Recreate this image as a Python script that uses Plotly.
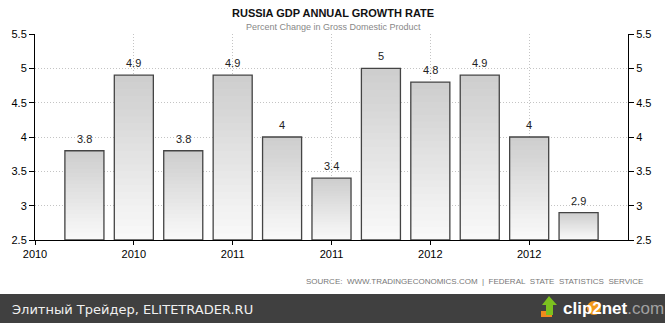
import plotly.graph_objects as go

# Russia GDP annual growth rate, quarterly readings
growth = [3.8, 4.9, 3.8, 4.9, 4.0, 3.4, 5.0, 4.8, 4.9, 4.0, 2.9]
positions = list(range(len(growth)))
tick_positions = [-1, 1, 3, 5, 7, 9]
tick_labels = ["2010", "2010", "2011", "2011", "2012", "2012"]
y_min, y_max = 2.5, 5.5

W, H = 665, 323
ML, MR, MT, MB = 35, 37, 34, 83
PW, PH = W - ML - MR, H - MT - MB


def px_x(px):
    return (px - ML) / PW


def px_y(py):
    return (H - MB - py) / PH


FONT = "Liberation Sans, Arial, sans-serif"
fig = go.Figure()

# vertical gradient inside each bar: nested overlaid bars, tallest (darkest) first
N = 24
top_rgb = (206, 206, 206)
bot_rgb = (249, 249, 249)
heights = [v - y_min for v in growth]
for k in range(N):
    t = k / (N - 1)
    c = tuple(round(top_rgb[i] + (bot_rgb[i] - top_rgb[i]) * t) for i in range(3))
    frac = (N - k) / N
    fig.add_trace(go.Bar(
        x=positions, y=[h * frac for h in heights], base=y_min,
        width=0.79, marker=dict(color="rgb(%d,%d,%d)" % c, line=dict(width=0)),
        hoverinfo="skip", showlegend=False,
    ))

# bar outlines
fig.add_trace(go.Bar(
    x=positions, y=heights, base=y_min, width=0.79,
    marker=dict(color="rgba(0,0,0,0)", line=dict(color="#444444", width=1.3)),
    showlegend=False, hovertemplate="%{x}: %{customdata}<extra></extra>",
    customdata=growth,
))

# right-hand axis companion trace
fig.add_trace(go.Scatter(
    x=positions, y=growth, yaxis="y2", mode="markers",
    marker=dict(opacity=0), hoverinfo="skip", showlegend=False,
))

# value labels
for xv, v in zip(positions, growth):
    fig.add_annotation(
        x=xv, y=v, text=f"{v:g}", showarrow=False, yanchor="bottom", yshift=4,
        font=dict(family=FONT, size=11, color="#222222"),
    )

axis_common = dict(
    range=[y_min, y_max], dtick=0.5, showline=True, linecolor="black", linewidth=1,
    ticks="outside", ticklen=5, tickcolor="black",
    tickfont=dict(family=FONT, size=11, color="black"), zeroline=False,
)
grid = dict(showgrid=True, gridcolor="#c4c4c4", griddash="1px,2px", gridwidth=1)

fig.update_layout(
    width=W, height=H, margin=dict(l=ML, r=MR, t=MT, b=MB),
    paper_bgcolor="white", plot_bgcolor="white", barmode="overlay",
    xaxis=dict(
        range=[-1, 11], tickvals=tick_positions, ticktext=tick_labels,
        showline=True, linecolor="black", linewidth=1,
        ticks="outside", ticklen=4, tickcolor="black",
        tickfont=dict(family=FONT, size=11, color="black"), zeroline=False, **grid,
    ),
    yaxis=dict(side="left", **grid, **axis_common),
    yaxis2=dict(overlaying="y", side="right", showgrid=False, **axis_common),
    showlegend=False,
)


def note(x_px, y_px, text, font, xanchor="center"):
    fig.add_annotation(
        xref="paper", yref="paper", x=px_x(x_px), y=px_y(y_px),
        xanchor=xanchor, yanchor="middle", text=text, showarrow=False, font=font,
    )


# titles
note(333, 13, "<b>RUSSIA GDP ANNUAL GROWTH RATE</b>", dict(family=FONT, size=11, color="#111111"))
note(333, 27, "Percent Change in Gross Domestic Product", dict(family=FONT, size=9, color="#888888"))

# source line
sp = "\u00a0\u00a0"
src = ("SOURCE:" + sp + "WWW.TRADINGECONOMICS.COM" + sp + "|" + sp + "FEDERAL" + sp
       + "STATE" + sp + "STATISTICS" + sp + "SERVICE")
note(645, 281, src, dict(family=FONT, size=8, color="#777777"), xanchor="right")

# bottom banner
fig.add_shape(type="rect", xref="paper", yref="paper",
              x0=px_x(0), x1=px_x(W), y0=px_y(H), y1=px_y(294),
              fillcolor="#404040", line=dict(width=0), layer="below")
note(10, 309, "Элитный Трейдер, ELITETRADER.RU",
     dict(family="DejaVu Sans, sans-serif", size=13, color="#f0f0f0"), xanchor="left")

# clip2net mark: arrow icon, orange disc and wordmark
fig.add_shape(type="rect", xref="paper", yref="paper",
              x0=px_x(541), x1=px_x(552), y0=px_y(317), y1=px_y(311),
              fillcolor="#f08a1c", line=dict(width=0))
arrow = [(549, 296), (557, 305), (553, 305), (553, 315), (546, 315), (546, 305), (542, 305)]
path = "M " + " L ".join(f"{px_x(a)},{px_y(b)}" for a, b in arrow) + " Z"
fig.add_shape(type="path", xref="paper", yref="paper", path=path,
              fillcolor="#7cc11f", line=dict(width=0))
fig.add_shape(type="circle", xref="paper", yref="paper",
              x0=px_x(587), x1=px_x(601), y0=px_y(315), y1=px_y(301),
              fillcolor="#f39a1b", line=dict(width=0))
note(561, 308,
     "<b>clip2net</b><span style='color:#a0a0a0'>.com</span>",
     dict(family="Liberation Sans, Arial, sans-serif", size=17, color="#ffffff"), xanchor="left")

fig.write_html("out.html")
